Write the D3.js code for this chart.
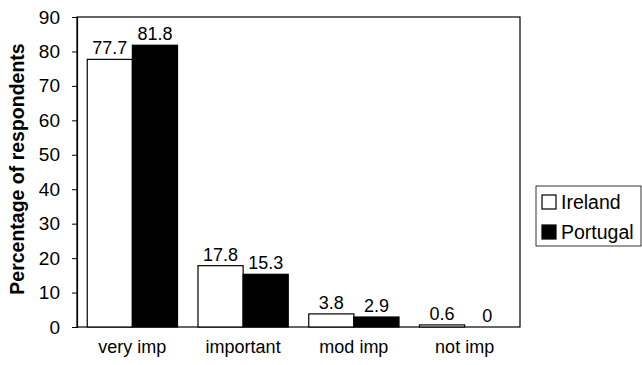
<!DOCTYPE html>
<html>
<head>
<meta charset="utf-8">
<script src="https://cdn.jsdelivr.net/npm/d3@7"></script>
<style>
  body { margin: 0; background: #fff; }
  svg { font-family: "Liberation Sans", Arial, sans-serif; }
</style>
</head>
<body>
<div id="chart"></div>
<script>
// data
var categories = ["very imp", "important", "mod imp", "not imp"];
var seriesNames = ["Ireland", "Portugal"];
var ireland = [77.7, 17.8, 3.8, 0.6];
var portugal = [81.8, 15.3, 2.9, 0];
var yTicks = [0, 10, 20, 30, 40, 50, 60, 70, 80, 90];

var svgWidth = 642, svgHeight = 365;
var margin = { top: 17, right: 122, bottom: 38, left: 77 };
var width = svgWidth - margin.left - margin.right;
var height = svgHeight - margin.top - margin.bottom;

var svg = d3.select("#chart").append("svg")
  .attr("width", svgWidth)
  .attr("height", svgHeight);

var chartGroup = svg.append("g")
  .attr("transform", `translate(${margin.left}, ${margin.top})`);

var x0 = d3.scaleBand().domain(categories).range([0, width]).paddingInner(0.185).paddingOuter(0.0925);
var x1 = d3.scaleBand().domain(seriesNames).range([0, x0.bandwidth()]);
var y = d3.scaleLinear().domain([0, 90]).range([height, 0]);

var colors = { Ireland: "#fff", Portugal: "#000" };

// frame
chartGroup.append("rect")
  .attr("width", width).attr("height", height)
  .attr("fill", "none").attr("stroke", "#000").attr("stroke-width", 1.2);

// y axis
var leftAxis = d3.axisLeft(y).tickValues(yTicks).tickSize(5).tickPadding(12);
var yAxis = chartGroup.append("g").call(leftAxis);
yAxis.select(".domain").attr("stroke-width", 1.2);
yAxis.selectAll("text").attr("font-size", 19).attr("fill", "#000")
  .attr("font-family", "Liberation Sans, Arial, sans-serif");

// x labels
chartGroup.selectAll(".xlab")
  .data(categories)
  .enter().append("text")
  .attr("x", d => x0(d) + x0.bandwidth() / 2)
  .attr("y", height + 26)
  .attr("text-anchor", "middle")
  .attr("font-size", 18)
  .text(d => d);

var rows = categories.map((c, i) => ({ cat: c, values: [
  { name: "Ireland", value: ireland[i] },
  { name: "Portugal", value: portugal[i] }
]}));

var groups = chartGroup.selectAll(".grp")
  .data(rows)
  .enter().append("g")
  .attr("transform", d => `translate(${x0(d.cat)},0)`);

groups.selectAll("rect")
  .data(d => d.values)
  .enter().append("rect")
  .attr("x", d => x1(d.name))
  .attr("width", x1.bandwidth())
  .attr("y", d => y(d.value))
  .attr("height", d => height - y(d.value))
  .attr("fill", d => colors[d.name])
  .attr("stroke", "#000")
  .attr("stroke-width", d => d.value > 0 ? 1.2 : 0);

groups.selectAll(".val")
  .data(d => d.values)
  .enter().append("text")
  .attr("x", d => x1(d.name) + x1.bandwidth() / 2)
  .attr("y", d => y(d.value) - 5)
  .attr("text-anchor", "middle")
  .attr("font-size", 18)
  .text(d => d.value);

// y title
svg.append("text")
  .attr("transform", `translate(24, ${margin.top + 152}) rotate(-90)`)
  .attr("text-anchor", "middle")
  .attr("font-size", 19.5)
  .attr("font-weight", "bold")
  .text("Percentage of respondents");

// legend
var legend = svg.append("g").attr("transform", "translate(536, 186)");
legend.append("rect")
  .attr("width", 105).attr("height", 60)
  .attr("fill", "#fff").attr("stroke", "#000").attr("stroke-width", 0.8);
var items = legend.selectAll(".item")
  .data(seriesNames)
  .enter().append("g")
  .attr("transform", (d, i) => `translate(6, ${16 + i * 30})`);
items.append("rect")
  .attr("x", 0).attr("y", -7)
  .attr("width", 14).attr("height", 14)
  .attr("fill", d => colors[d]).attr("stroke", "#000").attr("stroke-width", 1.2);
items.append("text")
  .attr("x", 19).attr("y", 7)
  .attr("font-size", 19.5)
  .text(d => d);
</script>
</body>
</html>
